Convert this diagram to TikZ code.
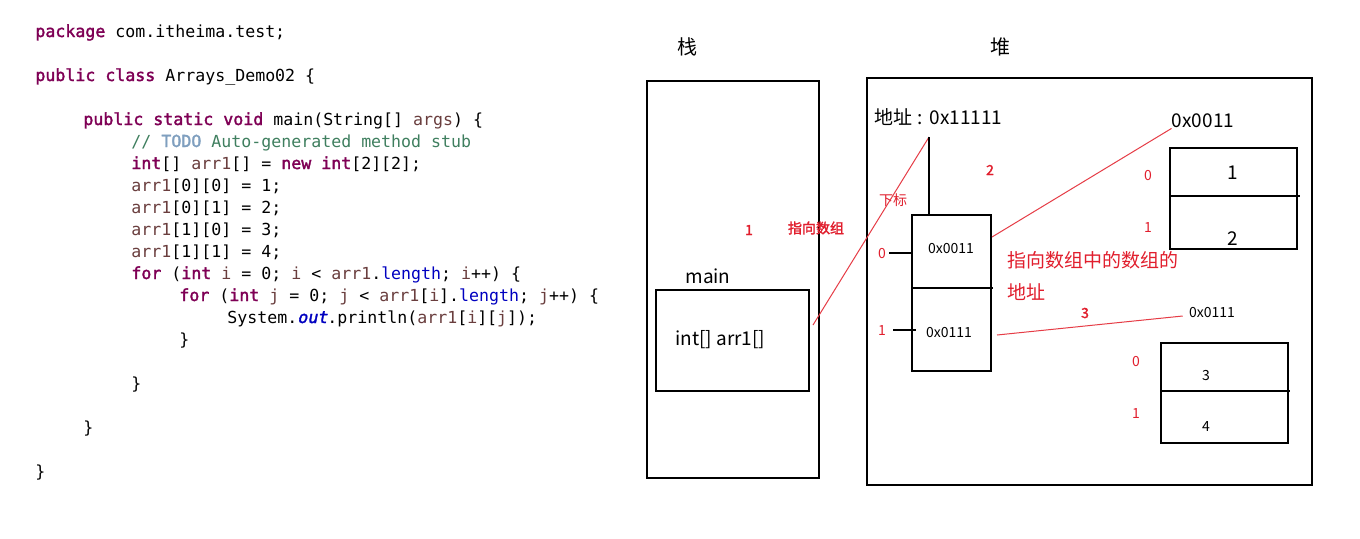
\documentclass[tikz,border=0pt]{standalone}
\usepackage{fontspec}
\usetikzlibrary{calc}
\newfontfamily\cjk[AutoFakeBold=2]{Noto Sans CJK SC}
\newfontfamily\codefont[AutoFakeBold=2,AutoFakeSlant=0.2]{DejaVu Sans Mono}
\definecolor{kwc}{RGB}{127,0,85}
\definecolor{varc}{RGB}{106,62,62}
\definecolor{cmtc}{RGB}{63,127,95}
\definecolor{todoc}{RGB}{127,159,191}
\definecolor{fldc}{RGB}{0,0,192}
\definecolor{myred}{RGB}{225,30,45}
\definecolor{linered}{RGB}{230,60,70}
\newcommand\jkw[1]{\textcolor{kwc}{\bfseries #1}}
\newcommand\jvar[1]{\textcolor{varc}{#1}}
\newcommand\jcmt[1]{\textcolor{cmtc}{#1}}
\newcommand\jtodo[1]{\textcolor{todoc}{\bfseries #1}}
\newcommand\jfld[1]{\textcolor{fldc}{#1}}
\newcommand\jout[1]{\textcolor{fldc}{\bfseries\itshape #1}}
\begin{document}
\begin{tikzpicture}[x=0.5pt,y=-0.5pt,
  code/.style={anchor=base west,inner sep=0pt,font=\codefont\fontsize{8.3}{10}\selectfont},
  box/.style={draw,line width=0.55pt,inner sep=0pt},
  big/.style={inner sep=0pt,font=\cjk\fontsize{9.5}{11}\selectfont},
  title/.style={inner sep=0pt,font=\cjk\fontsize{10}{12}\selectfont},
  small/.style={inner sep=0pt,font=\cjk\fontsize{7}{8}\selectfont},
  redbold/.style={inner sep=0pt,text=myred,font=\cjk\bfseries\fontsize{7}{8}\selectfont},
  redidx/.style={inner sep=0pt,text=myred,font=\cjk\fontsize{7}{8}\selectfont},
  redtext/.style={inner sep=0pt,text=myred,font=\cjk\fontsize{9.5}{11}\selectfont},
  redline/.style={draw=linered,line width=0.5pt},
  blk/.style={draw,line width=0.55pt}]
\useasboundingbox[fill=white] (0,0) rectangle (1360,538);

% ---------------- code ----------------
\node[code] (c0) at (35,37) {\jkw{package} com.itheima.test;};
\node[code] (c2) at (35,81) {\jkw{public} \jkw{class} Arrays\_Demo02 \{};
\node[code] (c4) at (83,125) {\jkw{public} \jkw{static} \jkw{void} main(String[] \jvar{args}) \{};
\node[code] (c5) at (131,147) {\jcmt{// \jtodo{TODO} Auto-generated method stub}};
\node[code] (c6) at (131,169) {\jkw{int}[] \jvar{arr1}[] = \jkw{new} \jkw{int}[2][2];};
\node[code] (c7) at (131,191) {\jvar{arr1}[0][0] = 1;};
\node[code] (c8) at (131,213) {\jvar{arr1}[0][1] = 2;};
\node[code] (c9) at (131,235) {\jvar{arr1}[1][0] = 3;};
\node[code] (c10) at (131,257) {\jvar{arr1}[1][1] = 4;};
\node[code] (c11) at (131,279) {\jkw{for} (\jkw{int} \jvar{i} = 0; \jvar{i} < \jvar{arr1}.\jfld{length}; \jvar{i}++) \{};
\node[code] (c12) at (179,301) {\jkw{for} (\jkw{int} \jvar{j} = 0; \jvar{j} < \jvar{arr1}[\jvar{i}].\jfld{length}; \jvar{j}++) \{};
\node[code] (c13) at (227,323) {System.\jout{out}.println(\jvar{arr1}[\jvar{i}][\jvar{j}]);};
\node[code] (c14) at (179,345) {\}};
\node[code] (c16) at (131,389) {\}};
\node[code] (c18) at (83,433) {\}};
\node[code] (c20) at (35,477) {\}};

% ---------------- stack ----------------
\node[title] (zhan) at (687,47) {栈};
\node[title] (dui) at (1000,47) {堆};
\node[box,minimum width=86pt,minimum height=198.5pt] (stack) at (733,279.5) {};
\node[big] (main) at (708,276) {main};
\node[box,minimum width=76.5pt,minimum height=50.5pt] (frame) at (732.5,340.5) {};
\node[big,anchor=west] (arrvar) at (675,340) {int[] arr1[]};
\node[redbold] (n1) at (749,230) {1};
\node[redbold] (zx) at (816,228) {指向数组};

% ---------------- heap ----------------
\node[box,minimum width=222.5pt,minimum height=203.5pt] (heap) at (1089.5,281.5) {};
\node[big,anchor=west] (addr) at (874,117) {地址\kern2.5pt:\kern3.5pt0x11111};
\node[redidx] (xb) at (893,200) {下标};
\node[redbold] (n2) at (990,170) {2};
\node[redbold] (n3) at (1085,313) {3};

% outer array
\node[box,minimum width=39.5pt,minimum height=78pt] (a1) at (951.5,293) {};
\draw[blk] (a1.west |- 0,288) -- (993,288);
\node[small] (a1v0) at (951,248) {0x0011};
\node[small] (a1v1) at (949,332) {0x0111};
\node[redidx] (i0) at (882,253) {0};
\node[redidx] (i1) at (882,330) {1};

\node[redtext,anchor=west] (desc1) at (1007,260) {指向数组中的数组的};
\node[redtext,anchor=west] (desc2) at (1007,292) {地址};

% inner array 1
\node[big] (lbl1) at (1203,121) {0x0011};
\node[box,minimum width=63.5pt,minimum height=50.5pt] (a2) at (1233.5,198.5) {};
\draw[blk] (a2.west |- 0,196) -- (1300,196);
\node[big] (v1) at (1233,173) {1};
\node[big] (v2) at (1233,239) {2};
\node[redidx] (j0) at (1148,175) {0};
\node[redidx] (j1) at (1148,227) {1};

% inner array 2
\node[small] (lbl2) at (1212,312) {0x0111};
\node[box,minimum width=63.5pt,minimum height=50pt] (a3) at (1224.5,393) {};
\draw[blk] (a3.west |- 0,391) -- (1290,391);
\node[small] (v3) at (1206,375) {3};
\node[small] (v4) at (1206,426) {4};
\node[redidx] (k0) at (1136,361) {0};
\node[redidx] (k1) at (1136,413) {1};

% ---------------- connectors ----------------
\coordinate (addrpt) at (929,137);
\coordinate (frameout) at (813,325);
\coordinate (a1out0) at (992,237);
\coordinate (a1out1) at (997,335);
\draw[redline] (frameout) -- (addrpt);
\draw[blk] (addrpt) -- (addrpt |- a1.north);
\draw[blk] (i0.east) ++(3,0) -- (i0.east -| a1.west);
\draw[blk] (i1.east) ++(7,0) -- ($(i1.east -| a1.west)+(5,0)$);
\draw[redline] (a1out0) -- (lbl1.south west);
\draw[redline] (a1out1) -- ($(lbl2.west)+(-6,4)$);
\end{tikzpicture}
\end{document}
